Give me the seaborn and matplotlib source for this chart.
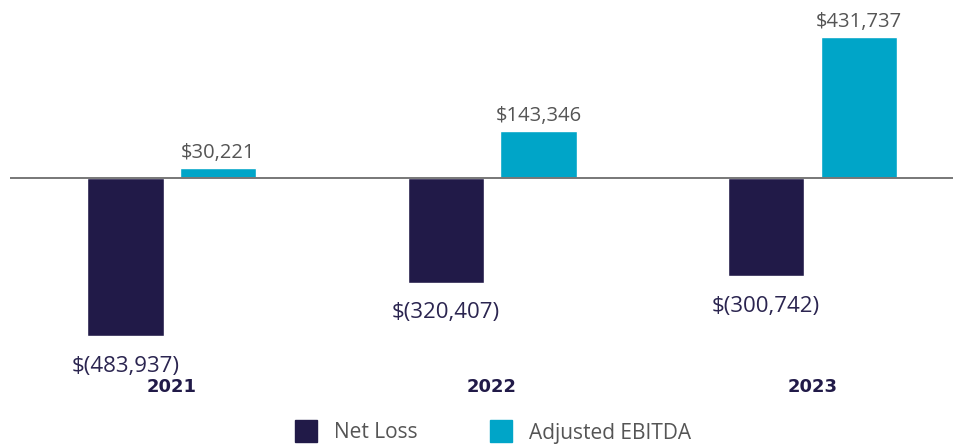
import pandas as pd
import seaborn as sns
import matplotlib.pyplot as plt
from matplotlib.lines import Line2D

years = ["2021", "2022", "2023"]
net_loss = [-483937, -320407, -300742]
adj_ebitda = [30221, 143346, 431737]
series = ["Net Loss", "Adjusted EBITDA"]

navy = "#211a48"
cyan = "#00a5c8"

df = pd.DataFrame({
    "year": years * 2,
    "value": net_loss + adj_ebitda,
    "series": [series[0]] * 3 + [series[1]] * 3,
})

sns.set_style("white")
plt.rcParams["font.family"] = ["Open Sans", "DejaVu Sans"]

fig = plt.figure(figsize=(9.56, 4.46), dpi=100)
ax = fig.add_axes([10 / 956, 1 - 350 / 446, 943 / 956, 350 / 446])

sns.barplot(data=df, x="year", y="value", hue="series", palette=[navy, cyan],
            width=0.58, gap=0.18, ax=ax, legend=False, saturation=1)

ax.set_xlim(-0.506, 2.44)
ax.set_ylim(-526800, 545200)
ax.axhline(0, color="#777777", lw=1.4, zorder=3)
for s in ax.spines.values():
    s.set_visible(False)
ax.set_yticks([])
ax.set_xlabel("")
ax.set_ylabel("")
ax.tick_params(axis="x", length=0, pad=20)
for t in ax.get_xticklabels():
    t.set_family("DejaVu Sans")
    t.set_fontweight("bold")
    t.set_color(navy)
    t.set_fontsize(13)

# value labels
for i, v in enumerate(net_loss):
    ax.annotate("$({:,})".format(-v), (i - 0.145, v), xytext=(0, -30),
                textcoords="offset pixels", ha="center", va="center",
                color="#2b2550", fontsize=16, annotation_clip=False)
for i, v in enumerate(adj_ebitda):
    ax.annotate("${:,}".format(v), (i + 0.145, v), xytext=(0, 15),
                textcoords="offset pixels", ha="center", va="center",
                color="#555555", fontsize=14.5, annotation_clip=False)

handles = [Line2D([], [], marker="s", ls="", ms=16, color=c) for c in (navy, cyan)]
fig.legend(handles, series, loc="center", bbox_to_anchor=(488 / 956, 1 - 433 / 446),
           ncol=2, frameon=False, fontsize=15, labelcolor="#555555",
           columnspacing=3, handletextpad=0.35)

fig.savefig("out.png", dpi=100)
